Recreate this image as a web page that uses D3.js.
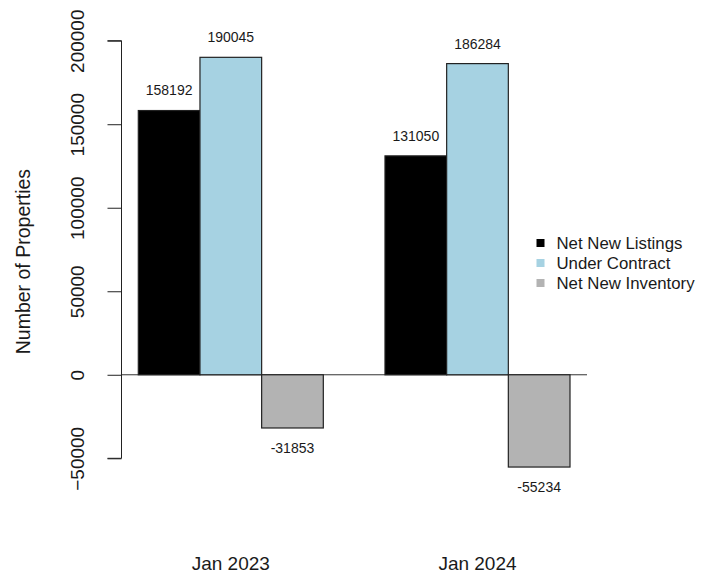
<!DOCTYPE html>
<html><head><meta charset="utf-8">
<script src="https://cdn.jsdelivr.net/npm/d3@7"></script>
<style>body{margin:0;background:#fff}svg{display:block}text{font-family:"Liberation Sans",Arial,sans-serif;fill:#1a1a1a}</style>
</head><body><svg id="c" width="710" height="574"></svg>
<script>
const categories = ["Jan 2023", "Jan 2024"];
const seriesNames = ["Net New Listings", "Under Contract", "Net New Inventory"];
const seriesColors = ["#000000", "#A6D2E2", "#B3B3B3"];
const netNewListings = [158192, 131050];
const underContract = [190045, 186284];
const netNewInventory = [-31853, -55234];
const yTicks = [-50000, 0, 50000, 100000, 150000, 200000];

const seriesValues = [netNewListings, underContract, netNewInventory];
const svg = d3.select("#c");

const y = d3.scaleLinear().domain([-50000, 200000]).range([458.3, 40.7]);
const x0 = d3.scaleBand().domain(categories).range([138.3, 570]).paddingInner(0.25).paddingOuter(0);
const x1 = d3.scaleBand().domain(seriesNames).range([0, x0.bandwidth()]).padding(0);
const plotLeft = 121.5, plotRight = 587;

// baseline
svg.append("line").attr("x1", plotLeft).attr("x2", plotRight)
  .attr("y1", y(0)).attr("y2", y(0)).attr("stroke", "#333").attr("stroke-width", 1);

// bars
categories.forEach((cat, ci) => {
  const g = svg.append("g");
  seriesNames.forEach((s, si) => {
    const v = seriesValues[si][ci];
    const bx = x0(cat) + x1(s);
    g.append("rect")
      .attr("x", bx).attr("width", x1.bandwidth())
      .attr("y", y(Math.max(0, v))).attr("height", Math.abs(y(v) - y(0)))
      .attr("fill", seriesColors[si]).attr("stroke", "#222").attr("stroke-width", 1.2);
    g.append("text")
      .attr("x", bx + x1.bandwidth() / 2)
      .attr("y", y(v + (v >= 0 ? 12000 : -12000)))
      .attr("text-anchor", "middle").attr("dominant-baseline", "central")
      .attr("font-size", 14).text(v);
  });
  svg.append("text").attr("x", x0(cat) + x0.bandwidth() / 2).attr("y", 563)
    .attr("text-anchor", "middle").attr("dominant-baseline", "central")
    .attr("font-size", 19).text(cat);
});

// y axis
const axis = svg.append("g").attr("transform", `translate(${plotLeft},0)`)
  .call(d3.axisLeft(y).tickValues(yTicks).tickSize(14).tickFormat(d3.format("d")));
axis.select(".domain").attr("d", `M-14,${y(-50000)}H0V${y(200000)}H-14`).attr("stroke", "#222");
axis.selectAll(".tick line").attr("stroke", "#222");
axis.selectAll(".tick text")
  .attr("font-size", 19).attr("fill", "#1a1a1a")
  .attr("font-family", "Liberation Sans, Arial, sans-serif")
  .attr("text-anchor", "middle").attr("dominant-baseline", "central")
  .attr("x", 0).attr("dy", null)
  .attr("transform", "translate(-44,0) rotate(-90)");

// y title
svg.append("text").attr("transform", `translate(23,${(40.7 + 482.5) / 2}) rotate(-90)`)
  .attr("text-anchor", "middle").attr("dominant-baseline", "central")
  .attr("font-size", 19.5).text("Number of Properties");

// legend
const leg = svg.append("g").attr("transform", "translate(536.5,243)");
seriesNames.forEach((s, i) => {
  leg.append("rect").attr("x", 0).attr("y", i * 20 - 4).attr("width", 8).attr("height", 8)
    .attr("fill", seriesColors[i]);
  leg.append("text").attr("x", 20).attr("y", i * 20).attr("dominant-baseline", "central")
    .attr("font-size", 16.8).text(s);
});
</script></body></html>
